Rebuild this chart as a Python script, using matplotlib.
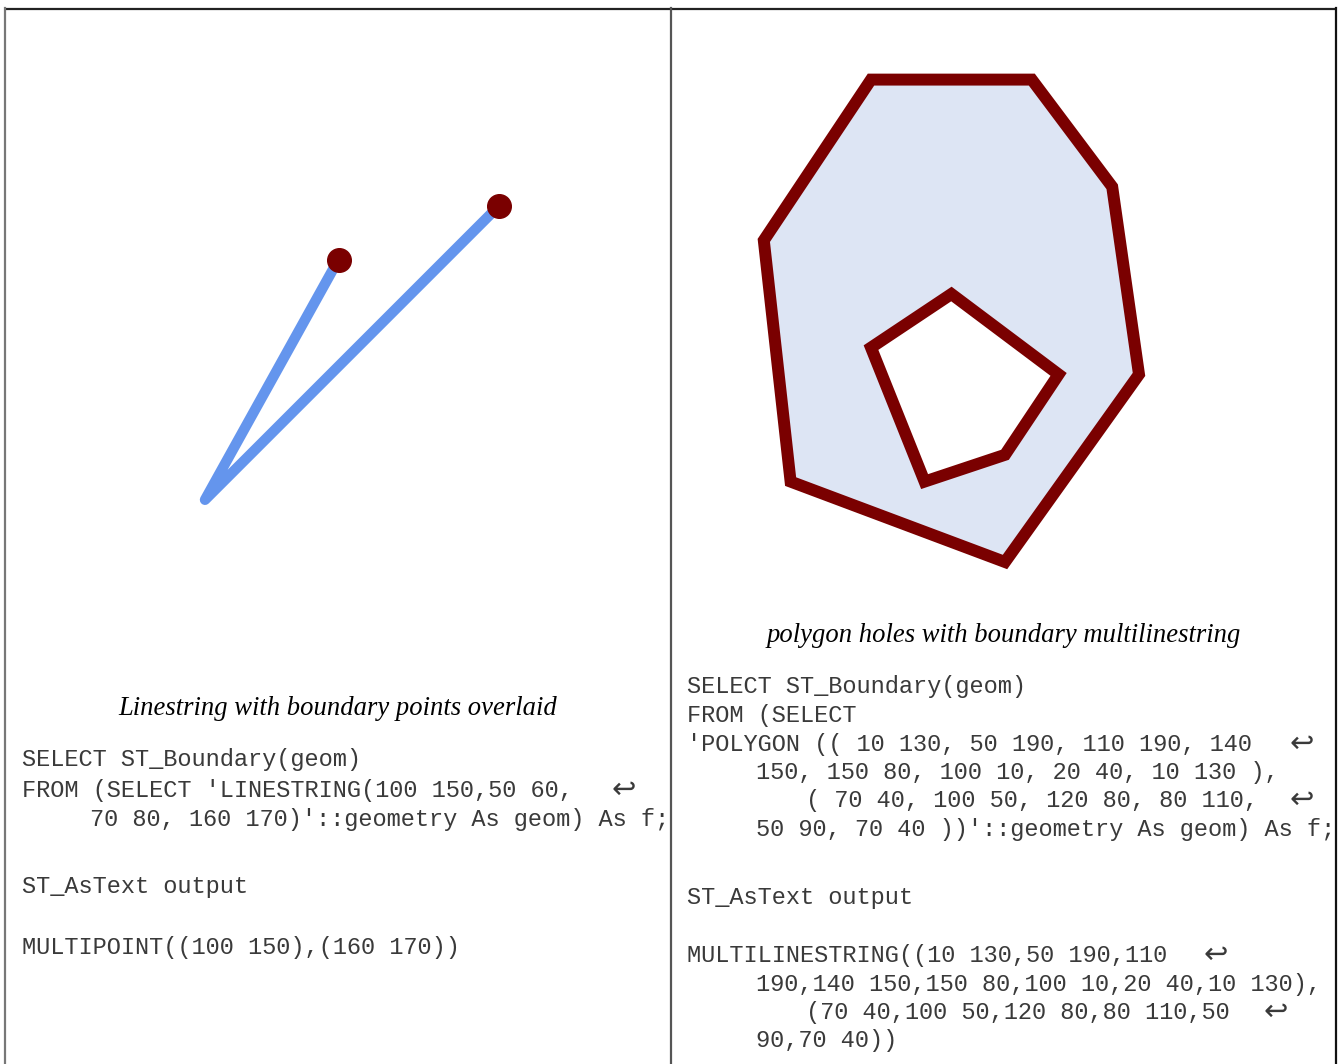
import matplotlib
matplotlib.use("Agg")
import matplotlib.pyplot as plt
from matplotlib.path import Path
from matplotlib.patches import PathPatch

# ---------------- data ----------------
line_x = [100, 50, 70, 160]
line_y = [150, 60, 80, 170]
bpts_x = [100, 160]
bpts_y = [150, 170]

shell_x = [10, 50, 110, 140, 150, 100, 20, 10]
shell_y = [130, 190, 190, 150, 80, 10, 40, 130]
hole_x = [70, 100, 120, 80, 50, 70]
hole_y = [40, 50, 80, 110, 90, 40]

left_title = "Linestring with boundary points overlaid"
right_title = "polygon holes with boundary multilinestring"

# (text, x_px, baseline_px)
left_lines = [
    ("SELECT ST_Boundary(geom)", 22, 766),
    ("FROM (SELECT 'LINESTRING(100 150,50 60,", 22, 797),
    ("70 80, 160 170)'::geometry As geom) As f;", 90, 826),
    ("ST_AsText output", 22, 893),
    ("MULTIPOINT((100 150),(160 170))", 22, 954),
]
left_arrows = [(612, 797)]

right_lines = [
    ("SELECT ST_Boundary(geom)", 687, 693),
    ("FROM (SELECT", 687, 722),
    ("'POLYGON (( 10 130, 50 190, 110 190, 140", 687, 751),
    ("150, 150 80, 100 10, 20 40, 10 130 ),", 756, 779),
    ("( 70 40, 100 50, 120 80, 80 110,", 806, 807),
    ("50 90, 70 40 ))'::geometry As geom) As f;", 756, 836),
    ("ST_AsText output", 687, 904),
    ("MULTILINESTRING((10 130,50 190,110", 687, 962),
    ("190,140 150,150 80,100 10,20 40,10 130),", 756, 991),
    ("(70 40,100 50,120 80,80 110,50", 806, 1019),
    ("90,70 40))", 756, 1047),
]
right_arrows = [(1290, 751), (1290, 807), (1204, 962), (1264, 1019)]

# ---------------- styling ----------------
W, H = 1340, 1064
BLUE = "#6495ED"
DARKRED = "#7A0000"
FILL = "#DDE5F4"
MONO = ["Liberation Mono", "DejaVu Sans Mono"]
SERIF = ["Liberation Serif", "DejaVu Serif"]
TXT = "#3a3a3a"

fig = plt.figure(figsize=(W / 100, H / 100), dpi=100)
fig.patch.set_facecolor("white")

# background axes in pixel coordinates for text and frame
bg = fig.add_axes([0, 0, 1, 1], zorder=0)
bg.set_xlim(0, W)
bg.set_ylim(H, 0)
bg.axis("off")

def px_axes(x0, x200, y0, y200, z):
    # axes whose data range 0..200 maps onto the given pixel span
    l = x0 / W
    w = (x200 - x0) / W
    b = (H - y0) / H
    h = (y0 - y200) / H
    ax = fig.add_axes([l, b, w, h], zorder=z)
    ax.set_xlim(0, 200)
    ax.set_ylim(0, 200)
    ax.axis("off")
    ax.patch.set_alpha(0)
    return ax

# ---- left graphic ----
axl = px_axes(71.5, 605.5, 660, 126, 2)
axl.plot(line_x, line_y, color=BLUE, lw=7.5, solid_capstyle="round",
         solid_joinstyle="round", clip_on=False)
axl.plot(bpts_x, bpts_y, "o", color=DARKRED, ms=17, mec=DARKRED, clip_on=False)

# ---- right graphic ----
axr = px_axes(737, 1273, 588.8, 52.8, 2)
verts = list(zip(shell_x, shell_y)) + list(zip(hole_x, hole_y))
codes = ([Path.MOVETO] + [Path.LINETO] * (len(shell_x) - 2) + [Path.CLOSEPOLY] +
         [Path.MOVETO] + [Path.LINETO] * (len(hole_x) - 2) + [Path.CLOSEPOLY])
poly_path = Path(verts, codes)
axr.add_patch(PathPatch(poly_path, facecolor=FILL, edgecolor="none",
                        clip_on=False))
axr.add_patch(PathPatch(poly_path, facecolor="none", edgecolor=DARKRED,
                        lw=8.6, joinstyle="miter", clip_on=False))

# ---- titles ----
bg.text(338, 715, left_title, family=SERIF, style="italic", fontsize=19.2,
        ha="center", va="baseline", color="black")
bg.text(1004, 642, right_title, family=SERIF, style="italic", fontsize=19.2,
        ha="center", va="baseline", color="black")

# ---- code text ----
for s, x, y in left_lines + right_lines:
    bg.text(x, y, s, family=MONO, fontsize=17, ha="left", va="baseline",
            color=TXT, zorder=2)
for x, y in left_arrows + right_arrows:
    bg.text(x, y + 1, "\u21a9", family=["DejaVu Sans", "DejaVu Sans Mono"],
            fontsize=21, ha="left", va="baseline", color=TXT, zorder=2)

# ---- frame lines ----
bg.plot([4, 1336], [8.5, 8.5], color="#222222", lw=1.6, zorder=5,
        solid_capstyle="butt")
bg.plot([5, 5], [8, H], color="#777777", lw=1.6, zorder=5)
bg.plot([670.5, 670.5], [8, H], color="#555555", lw=1.6, zorder=5)
bg.plot([1335.5, 1335.5], [8, H], color="#111111", lw=1.6, zorder=5)

fig.savefig("out.png", dpi=100, facecolor="white")
